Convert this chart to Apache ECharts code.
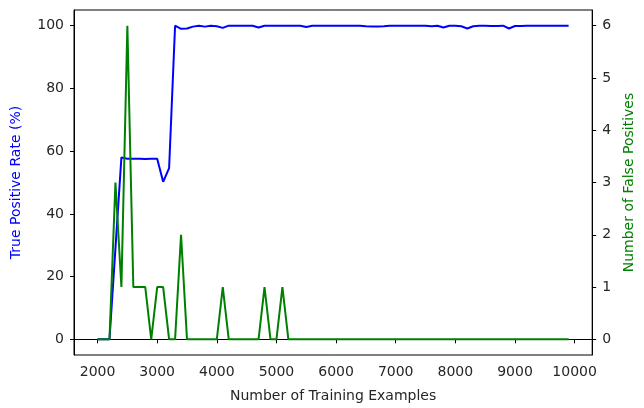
<!DOCTYPE html>
<html>
<head>
<meta charset="utf-8">
<script src="https://cdn.jsdelivr.net/npm/echarts@6/dist/echarts.min.js"></script>
<style>
  html, body { margin: 0; padding: 0; background: #fff; }
  #chart { width: 644px; height: 408px; }
</style>
</head>
<body>
<div id="chart"></div>
<script>
// training set sizes
var trainSizes = [
  2000, 2100, 2200, 2300, 2400, 2500, 2600, 2700, 2800, 2900,
  3000, 3100, 3200, 3300, 3400, 3500, 3600, 3700, 3800, 3900,
  4000, 4100, 4200, 4300, 4400, 4500, 4600, 4700, 4800, 4900,
  5000, 5100, 5200, 5300, 5400, 5500, 5600, 5700, 5800, 5900,
  6000, 6100, 6200, 6300, 6400, 6500, 6600, 6700, 6800, 6900,
  7000, 7100, 7200, 7300, 7400, 7500, 7600, 7700, 7800, 7900,
  8000, 8100, 8200, 8300, 8400, 8500, 8600, 8700, 8800, 8900,
  9000, 9100, 9200, 9300, 9400, 9500, 9600, 9700, 9800, 9900
];

// true positive rate (%)
var tpRate = [
  0, 0, 0, 29, 58, 57.6, 57.6, 57.6, 57.5, 57.6,
  57.6, 50.2, 54.6, 100, 99, 99.1, 99.7, 100, 99.7, 100,
  99.8, 99.3, 100, 100, 100, 100, 100, 99.4, 100, 100,
  100, 100, 100, 100, 100, 99.6, 100, 100, 100, 100,
  100, 100, 100, 100, 100, 99.8, 99.7, 99.7, 99.8, 100,
  100, 100, 100, 100, 100, 100, 99.8, 100, 99.4, 100,
  100, 99.8, 99.1, 99.8, 100, 100, 99.9, 99.9, 100, 99.1,
  99.9, 99.9, 100, 100, 100, 100, 100, 100, 100, 100
];

// number of false positives
var falsePos = [
  0, 0, 0, 3, 1, 6, 1, 1, 1, 0,
  1, 1, 0, 0, 2, 0, 0, 0, 0, 0,
  0, 1, 0, 0, 0, 0, 0, 0, 1, 0,
  0, 1, 0, 0, 0, 0, 0, 0, 0, 0,
  0, 0, 0, 0, 0, 0, 0, 0, 0, 0,
  0, 0, 0, 0, 0, 0, 0, 0, 0, 0,
  0, 0, 0, 0, 0, 0, 0, 0, 0, 0,
  0, 0, 0, 0, 0, 0, 0, 0, 0, 0
];

var xTicks = [2000, 3000, 4000, 5000, 6000, 7000, 8000, 9000, 10000];
var leftTicks = [0, 20, 40, 60, 80, 100];
var rightTicks = [0, 1, 2, 3, 4, 5, 6];

function pairs(xs, ys) {
  return xs.map(function (x, i) { return [x, ys[i]]; });
}

function plain(v) { return String(v); }

var font = 'DejaVu Sans';
var textColor = '#262626';

var chart = echarts.init(document.getElementById('chart'), null, { renderer: 'canvas' });

chart.setOption({
  animation: false,
  backgroundColor: '#fff',
  grid: {
    left: 74, right: 37, top: 10, bottom: 50,
    show: true, borderColor: '#000', borderWidth: 1, backgroundColor: 'transparent'
  },
  xAxis: {
    type: 'value',
    min: 1605, max: 10295,
    name: 'Number of Training Examples',
    nameLocation: 'middle',
    nameGap: 34,
    nameTextStyle: { color: textColor, fontFamily: font, fontSize: 14 },
    axisLine: { show: true, lineStyle: { color: '#000' } },
    axisTick: { show: true, inside: false, length: 4, customValues: xTicks, lineStyle: { color: '#000' } },
    axisLabel: { customValues: xTicks, formatter: plain, margin: 10, color: textColor, fontFamily: font, fontSize: 14 },
    splitLine: { show: false }
  },
  yAxis: [{
    type: 'value',
    position: 'left',
    min: -5, max: 105,
    name: 'True Positive Rate (%)',
    nameLocation: 'middle',
    nameGap: 51,
    nameTextStyle: { color: '#0000ff', fontFamily: font, fontSize: 14 },
    axisLine: { show: true, lineStyle: { color: '#000' } },
    axisTick: { show: true, length: 4, customValues: leftTicks, lineStyle: { color: '#000' } },
    axisLabel: { customValues: leftTicks, formatter: plain, margin: 10, color: textColor, fontFamily: font, fontSize: 14 },
    splitLine: { show: false }
  }, {
    type: 'value',
    position: 'right',
    min: -0.3, max: 6.3,
    name: 'Number of False Positives',
    nameLocation: 'middle',
    nameGap: 28,
    nameTextStyle: { color: '#008000', fontFamily: font, fontSize: 14 },
    axisLine: { show: true, lineStyle: { color: '#000' } },
    axisTick: { show: true, length: 4, customValues: rightTicks, lineStyle: { color: '#000' } },
    axisLabel: { customValues: rightTicks, formatter: plain, margin: 10, color: textColor, fontFamily: font, fontSize: 14 },
    splitLine: { show: false }
  }],
  series: [{
    name: 'True Positive Rate',
    type: 'line',
    yAxisIndex: 0,
    data: pairs(trainSizes, tpRate),
    showSymbol: false,
    lineStyle: { color: '#0000ff', width: 2 },
    itemStyle: { color: '#0000ff' }
  }, {
    name: 'False Positives',
    type: 'line',
    yAxisIndex: 1,
    data: pairs(trainSizes, falsePos),
    showSymbol: false,
    lineStyle: { color: '#008000', width: 2 },
    itemStyle: { color: '#008000' }
  }]
});
</script>
</body>
</html>
